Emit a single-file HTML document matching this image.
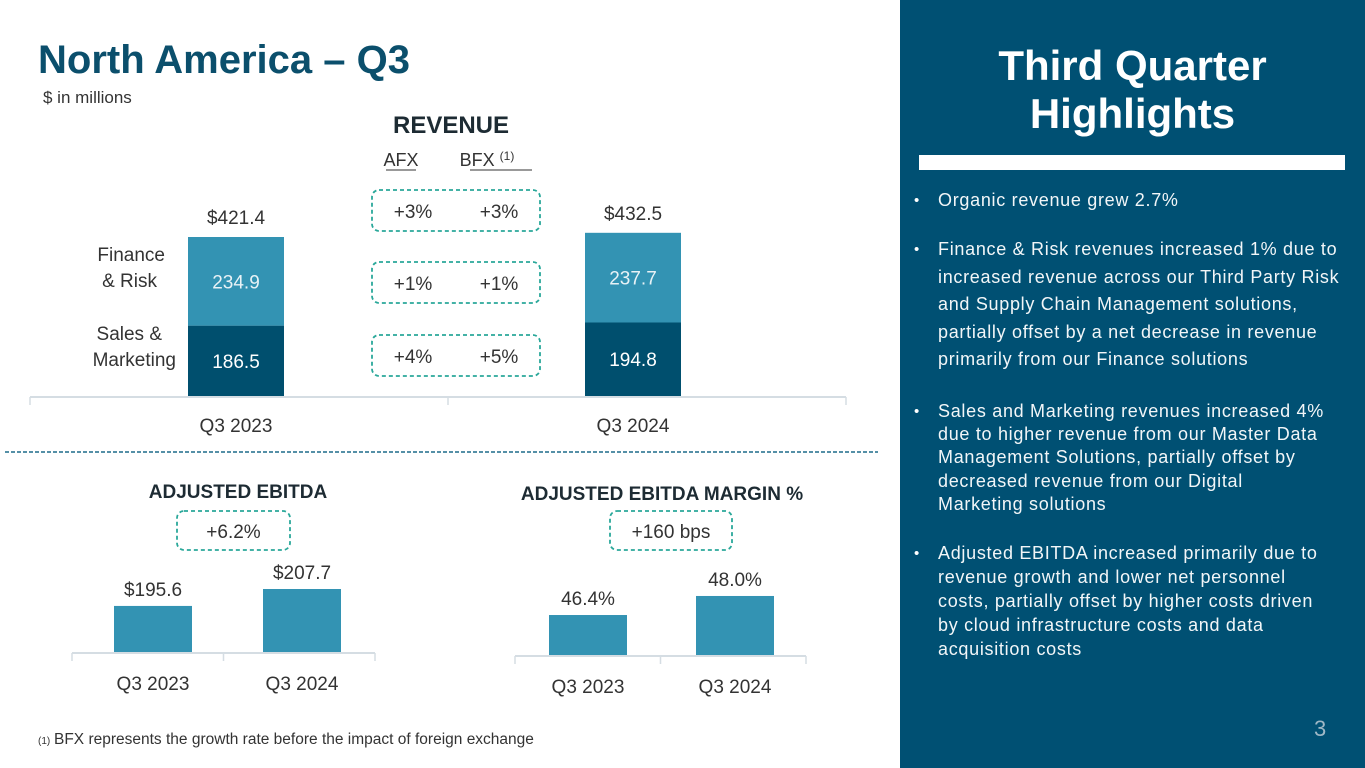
<!DOCTYPE html>
<html><head><meta charset="utf-8"><style>
body{margin:0;width:1365px;height:768px;overflow:hidden;background:#fff;font-family:"Liberation Sans",sans-serif;position:relative}
#left{position:absolute;left:0;top:0}
#panel{position:absolute;left:900px;top:0;width:465px;height:768px;background:#005073;color:#fff}
.ln{position:absolute;left:38px;font-size:18px;letter-spacing:0.7px;white-space:nowrap;color:#f2f6f8}
.bu{position:absolute;left:14px;font-size:15px}
</style></head><body>
<svg id="left" width="900" height="768">
<text x="38" y="73" font-size="40" font-weight="bold" fill="#0b4f6c">North America – Q3</text>
<text x="43" y="103" font-size="17" fill="#333">$ in millions</text>
<text x="451" y="133" font-size="24" font-weight="bold" fill="#1d2b33" text-anchor="middle">REVENUE</text>
<text x="401" y="166" font-size="18" fill="#333" text-anchor="middle">AFX</text>
<line x1="386" y1="170" x2="416" y2="170" stroke="#333"/>
<text x="487" y="166" font-size="18" fill="#333" text-anchor="middle">BFX <tspan font-size="12" dy="-6">(1)</tspan></text>
<line x1="470" y1="170" x2="532" y2="170" stroke="#333"/>
<g id="rev"></g>
<g id="growth"></g>
<text x="165" y="261" font-size="19" fill="#333" text-anchor="end">Finance</text>
<text x="157" y="287" font-size="19" fill="#333" text-anchor="end">&amp; Risk</text>
<text x="162" y="340" font-size="19" fill="#333" text-anchor="end">Sales &amp;</text>
<text x="176" y="366" font-size="19" fill="#333" text-anchor="end">Marketing</text>
<line x1="5" y1="452" x2="878" y2="452" stroke="#1d6c8a" stroke-width="1.5" stroke-dasharray="4,2"/>
<text x="238" y="498" font-size="19" font-weight="bold" fill="#1d2b33" text-anchor="middle">ADJUSTED EBITDA</text>
<text x="662" y="500" font-size="19" font-weight="bold" fill="#1d2b33" text-anchor="middle">ADJUSTED EBITDA MARGIN %</text>
<g id="ebitda"></g>
<g id="margin"></g>
<text x="38" y="744" font-size="10" fill="#333">(1)</text>
<text x="54" y="744" font-size="15.5" fill="#333">BFX represents the growth rate before the impact of foreign exchange</text>
</svg>
<div id="panel">
<div style="position:absolute;left:0;width:465px;top:42px;text-align:center;font-size:42px;font-weight:bold;line-height:48px">Third Quarter<br>Highlights</div>
<div style="position:absolute;left:19px;top:155px;width:426px;height:15px;background:#fff"></div>
<div>
<span class="bu" style="top:192px">•</span><div class="ln" style="top:190px">Organic revenue grew 2.7%</div>
<span class="bu" style="top:241px">•</span>
<div class="ln" style="top:239px">Finance &amp; Risk revenues increased 1% due to</div>
<div class="ln" style="top:267px">increased revenue across our Third Party Risk</div>
<div class="ln" style="top:294px">and Supply Chain Management solutions,</div>
<div class="ln" style="top:322px">partially offset by a net decrease in revenue</div>
<div class="ln" style="top:349px">primarily from our Finance solutions</div>
<span class="bu" style="top:403px">•</span>
<div class="ln" style="top:401px">Sales and Marketing revenues increased 4%</div>
<div class="ln" style="top:424px">due to higher revenue from our Master Data</div>
<div class="ln" style="top:447px">Management Solutions, partially offset by</div>
<div class="ln" style="top:471px">decreased revenue from our Digital</div>
<div class="ln" style="top:494px">Marketing solutions</div>
<span class="bu" style="top:545px">•</span>
<div class="ln" style="top:543px">Adjusted EBITDA increased primarily due to</div>
<div class="ln" style="top:567px">revenue growth and lower net personnel</div>
<div class="ln" style="top:591px">costs, partially offset by higher costs driven</div>
<div class="ln" style="top:615px">by cloud infrastructure costs and data</div>
<div class="ln" style="top:639px">acquisition costs</div>
</div>
<div style="position:absolute;left:414px;top:716px;font-size:22px;color:#9fb8c6">3</div>
</div>
<script>
const NS="http://www.w3.org/2000/svg";
const revCategories=["Q3 2023","Q3 2024"];
const revSales=[186.5,194.8];
const revFinance=[234.9,237.7];
const revTotals=["$421.4","$432.5"];
const afxGrowth=["+3%","+1%","+4%"];
const bfxGrowth=["+3%","+1%","+5%"];
const ebitdaCats=["Q3 2023","Q3 2024"];
const ebitdaVals=[195.6,207.7];
const ebitdaLabels=["$195.6","$207.7"];
const ebitdaGrowth="+6.2%";
const marginCats=["Q3 2023","Q3 2024"];
const marginVals=[46.4,48.0];
const marginLabels=["46.4%","48.0%"];
const marginGrowth="+160 bps";

function mk(p,tag,at,txt){const e=document.createElementNS(NS,tag);for(const k in at)e.setAttribute(k,at[k]);if(txt!=null)e.textContent=txt;p.appendChild(e);return e;}
function box(p,x,y,w,h){return mk(p,"rect",{x:x,y:y,width:w,height:h,rx:7,fill:"none",stroke:"#2aa89a","stroke-width":1.8,"stroke-dasharray":"4,3"});}

const rev=document.getElementById("rev");
const rBase=396,rScale=159/421.4;
const rx=i=>[236,633][i];
const ry=v=>rBase-v*rScale;
mk(rev,"line",{x1:30,y1:397,x2:846,y2:397,stroke:"#d5dde3","stroke-width":2});
[30,448,846].forEach(x=>mk(rev,"line",{x1:x,y1:397,x2:x,y2:405,stroke:"#d5dde3","stroke-width":1.5}));
revCategories.forEach((c,i)=>{
  const s=revSales[i],f=revFinance[i],cx=rx(i);
  let e=mk(rev,"rect",{x:cx-48,y:ry(s),width:96,height:rBase-ry(s),fill:"#004f6e"});
  
  
  e=mk(rev,"rect",{x:cx-48,y:ry(s+f),width:96,height:ry(s)-ry(s+f),fill:"#3393b3"});
  
  
  mk(rev,"text",{x:cx,y:(ry(s)+rBase)/2+7,"font-size":19,fill:"#fff","text-anchor":"middle"},s.toFixed(1));
  mk(rev,"text",{x:cx,y:(ry(s+f)+ry(s))/2+7,"font-size":19,fill:"#e8f2f6","text-anchor":"middle"},f.toFixed(1));
  mk(rev,"text",{x:cx,y:ry(s+f)-13,"font-size":19,fill:"#333","text-anchor":"middle"},revTotals[i]);
  mk(rev,"text",{x:cx,y:432,"font-size":19,fill:"#333","text-anchor":"middle"},c);
});
const g=document.getElementById("growth");
const boxY=[190,262,335];
afxGrowth.forEach((a,i)=>{
  const b=box(g,372,boxY[i],168,41);
  
  
  mk(g,"text",{x:413,y:boxY[i]+28,"font-size":19,fill:"#333","text-anchor":"middle"},a);
  mk(g,"text",{x:499,y:boxY[i]+28,"font-size":19,fill:"#333","text-anchor":"middle"},bfxGrowth[i]);
});

function small(id,cats,vals,labels,growth,o){
  const p=document.getElementById(id);
  const y=v=>o.base-(v-o.min)*o.scale;
  mk(p,"line",{x1:o.a0,y1:o.base+1,x2:o.a1,y2:o.base+1,stroke:"#d5dde3","stroke-width":2});
  [o.a0,(o.a0+o.a1)/2,o.a1].forEach(x=>mk(p,"line",{x1:x,y1:o.base+1,x2:x,y2:o.base+9,stroke:"#d5dde3","stroke-width":1.5}));
  cats.forEach((c,i)=>{
    const cx=o.cx[i];
    const r=mk(p,"rect",{x:cx-39,y:y(vals[i]),width:78,height:o.base-y(vals[i]),fill:"#3393b3"});
    
    
    mk(p,"text",{x:cx,y:y(vals[i])-10,"font-size":19,fill:"#333","text-anchor":"middle"},labels[i]);
    mk(p,"text",{x:cx,y:o.base+38,"font-size":19,fill:"#333","text-anchor":"middle"},c);
  });
  const b=box(p,o.bx,511,o.bw,39);
  
  
  mk(p,"text",{x:o.bx+o.bw/2,y:538,"font-size":19,fill:"#333","text-anchor":"middle"},growth);
}
small("ebitda",ebitdaCats,ebitdaVals,ebitdaLabels,ebitdaGrowth,{base:652,min:162.7,scale:1.4,a0:72,a1:375,cx:[153,302],bx:177,bw:113});
small("margin",marginCats,marginVals,marginLabels,marginGrowth,{base:655,min:43.04,scale:11.9,a0:515,a1:806,cx:[588,735],bx:610,bw:122});
</script>
</body></html>
